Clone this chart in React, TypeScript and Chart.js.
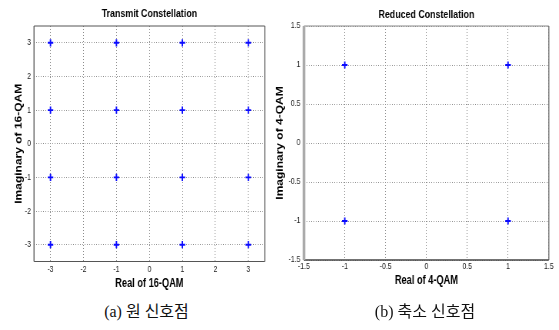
import React, { useEffect, useRef } from "react";
import { Chart, registerables } from "chart.js";

Chart.register(...registerables);

// ---- data ----
const qam16Real = [-3, -1, 1, 3, -3, -1, 1, 3, -3, -1, 1, 3, -3, -1, 1, 3];
const qam16Imag = [3, 3, 3, 3, 1, 1, 1, 1, -1, -1, -1, -1, -3, -3, -3, -3];
const qam4Real = [-1, 1, -1, 1];
const qam4Imag = [1, 1, -1, -1];
const ticks16 = [-3, -2, -1, 0, 1, 2, 3];
const ticks4 = [-1.5, -1, -0.5, 0, 0.5, 1, 1.5];
const range16 = [-3.5, 3.5];
const range4 = [-1.5, 1.5];
const titleA = "Transmit Constellation";
const titleB = "Reduced Constellation";
const xLabelA = "Real of 16-QAM";
const yLabelA = "Imaginary of 16-QAM";
const xLabelB = "Real of 4-QAM";
const yLabelB = "Imaginary of 4-QAM";
const captionA = "(a) 원 신호점";
const captionB = "(b) 축소 신호점";

// the original figure is squeezed horizontally; canvases are drawn wider and shown narrower
const SQUEEZE = 0.77;
const FONT = "'Liberation Sans', Arial, 'DejaVu Sans', sans-serif";

type Side = { color: string; width: number };
type Spec = {
  real: number[];
  imag: number[];
  ticks: number[];
  range: number[];
  title: string;
  xLabel: string;
  yLabel: string;
  padRight: number;
  yWidth: number;
  xHeight: number;
  titlePad: { top: number; bottom: number };
  yTitlePad: number;
  xTitlePad: number;
  xTickPad: number;
  yTickPad: number;
  box: { top: Side; right: Side; bottom: Side; left: Side };
};

function makeConfig(s: Spec): any {
  const boxPlugin = {
    id: "boxFrame",
    afterDraw(chart: any) {
      const { ctx, chartArea: a } = chart;
      const line = (x1: number, y1: number, x2: number, y2: number, st: Side) => {
        ctx.save();
        ctx.strokeStyle = st.color;
        ctx.lineWidth = st.width;
        ctx.setLineDash([]);
        ctx.beginPath();
        ctx.moveTo(x1, y1);
        ctx.lineTo(x2, y2);
        ctx.stroke();
        ctx.restore();
      };
      line(a.left, a.top, a.right, a.top, s.box.top);
      line(a.right, a.top, a.right, a.bottom, s.box.right);
      line(a.left, a.bottom, a.right, a.bottom, s.box.bottom);
      line(a.left, a.top, a.left, a.bottom, s.box.left);
    },
  };
  const tickFont = { family: FONT, size: 9 };
  const labelFont = { family: FONT, size: 12, weight: "bold" as const };
  const grid = { color: "#8c8c8c", lineWidth: 1, drawTicks: false };
  const border = { display: false, dash: [1, 2] };
  const setTicks = (scale: any) => {
    scale.ticks = s.ticks.map((v) => ({ value: v }));
  };
  return {
    type: "scatter",
    data: {
      datasets: [
        {
          data: s.real.map((x, i) => ({ x, y: s.imag[i] })),
          pointStyle: "cross",
          pointRadius: 3.6,
          pointBorderWidth: 1.9,
          borderColor: "#0a0aff",
          backgroundColor: "#0a0aff",
        },
      ],
    },
    options: {
      responsive: false,
      animation: false,
      devicePixelRatio: 1,
      layout: { padding: { left: 0, right: s.padRight, top: 0, bottom: 0 } },
      plugins: {
        legend: { display: false },
        tooltip: { enabled: false },
        title: {
          display: true,
          text: s.title,
          fullSize: false,
          color: "#000",
          font: { family: FONT, size: 11.5, weight: "bold" },
          padding: s.titlePad,
        },
      },
      scales: {
        x: {
          type: "linear",
          min: s.range[0],
          max: s.range[1],
          afterBuildTicks: setTicks,
          afterFit: (sc: any) => {
            sc.height = s.xHeight;
          },
          ticks: {
            padding: s.xTickPad,
            font: tickFont,
            color: "#222",
            autoSkip: false,
            maxRotation: 0,
            callback: (v: any) => String(v),
          },
          grid,
          border,
          title: {
            display: true,
            text: s.xLabel,
            color: "#000",
            font: labelFont,
            padding: { top: 0, bottom: s.xTitlePad },
          },
        },
        y: {
          type: "linear",
          min: s.range[0],
          max: s.range[1],
          afterBuildTicks: setTicks,
          afterFit: (sc: any) => {
            sc.width = s.yWidth;
          },
          ticks: {
            padding: s.yTickPad,
            font: tickFont,
            color: "#222",
            autoSkip: false,
            callback: (v: any) => String(v),
          },
          grid,
          border,
          title: {
            display: true,
            text: s.yLabel,
            color: "#000",
            font: labelFont,
            padding: { top: s.yTitlePad, bottom: 0 },
          },
        },
      },
    },
    plugins: [boxPlugin],
  };
}

function Panel({ left, width, height, spec }: { left: number; width: number; height: number; spec: Spec }) {
  const ref = useRef<HTMLCanvasElement | null>(null);
  useEffect(() => {
    if (!ref.current) return;
    const chart = new Chart(ref.current, makeConfig(spec));
    return () => chart.destroy();
  }, []);
  return (
    <canvas
      ref={ref}
      width={width}
      height={height}
      style={{ position: "absolute", left, top: 0, width: width * SQUEEZE, height }}
    />
  );
}

const specA: Spec = {
  real: qam16Real,
  imag: qam16Imag,
  ticks: ticks16,
  range: range16,
  title: titleA,
  xLabel: xLabelA,
  yLabel: yLabelA,
  padRight: 19.8,
  yWidth: 44.2,
  xHeight: 38.5,
  titlePad: { top: 6.7, bottom: 5.5 },
  yTitlePad: 17.5,
  xTitlePad: 8.8,
  xTickPad: 3.1,
  yTickPad: 3.9,
  box: {
    top: { color: "#555", width: 1 },
    right: { color: "#555", width: 1.3 },
    bottom: { color: "#555", width: 1 },
    left: { color: "#555", width: 1.3 },
  },
};

const specB: Spec = {
  real: qam4Real,
  imag: qam4Imag,
  ticks: ticks4,
  range: range4,
  title: titleB,
  xLabel: xLabelB,
  yLabel: yLabelB,
  padRight: 13.2,
  yWidth: 50.6,
  xHeight: 40,
  titlePad: { top: 8.1, bottom: 4.1 },
  yTitlePad: 12.3,
  xTitlePad: 11.8,
  xTickPad: 1.6,
  yTickPad: 4.5,
  box: {
    top: { color: "#888", width: 1 },
    right: { color: "#666", width: 1.3 },
    bottom: { color: "#444", width: 1.5 },
    left: { color: "#aaa", width: 3.5 },
  },
};

const captionStyle: React.CSSProperties = {
  position: "absolute",
  top: 302,
  width: 200,
  height: 20,
  lineHeight: "20px",
  textAlign: "center",
  fontSize: 16,
  color: "#111",
  fontFamily: "'Liberation Serif', 'DejaVu Serif', 'Noto Sans CJK KR', serif",
  whiteSpace: "nowrap",
};

export default function App() {
  return (
    <div
      style={{
        position: "absolute",
        left: 0,
        top: 0,
        width: 559,
        height: 330,
        background: "#fff",
        overflow: "hidden",
      }}
    >
      <Panel left={0} width={364} height={300} spec={specA} />
      <Panel left={265} width={382} height={300} spec={specB} />
      <div style={{ ...captionStyle, left: 46.5 }}>{captionA}</div>
      <div style={{ ...captionStyle, left: 325 }}>{captionB}</div>
    </div>
  );
}
